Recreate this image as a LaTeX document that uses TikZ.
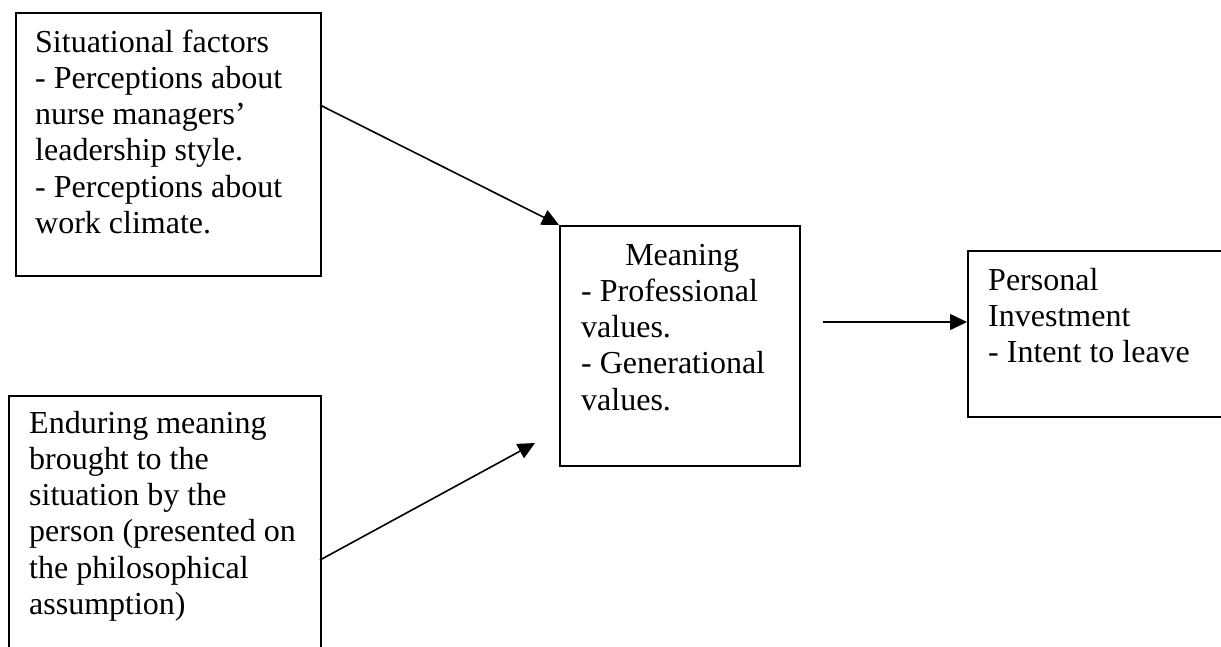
\documentclass[tikz,border=0pt]{standalone}
\usepackage{fontspec}
\setmainfont{Liberation Serif}
\usetikzlibrary{arrows.meta}
\begin{document}
\begin{tikzpicture}[x=1pt,y=-1pt,
  box/.style={draw, line width=1.9pt, rectangle, inner sep=0pt, anchor=north west},
  txt/.style={anchor=base west, inner sep=0pt, font=\fontsize{32}{36.3}\selectfont},
  arr/.style={line width=1.6pt, -{Triangle[length=17pt,width=16pt]}}]
\clip (0,0) rectangle (1221,646);
\fill[white] (0,0) rectangle (1221,646);
% boxes
\node[box, minimum width=305pt, minimum height=263pt] (b1) at (15,12) {};
\node[box, minimum width=312pt, minimum height=305pt] (b2) at (8,395) {};
\node[box, minimum width=240pt, minimum height=240pt] (m) at (559,225) {};
\node[box, minimum width=333pt, minimum height=166pt] (b4) at (967,250) {};
% texts
\node[txt] (t1) at (35,52) {\begin{tabular}[t]{@{}l@{}}Situational factors\\- Perceptions about\\nurse managers’\\leadership style.\\- Perceptions about\\work climate.\end{tabular}};
\node[txt] (t2) at (29,433) {\begin{tabular}[t]{@{}l@{}}Enduring meaning\\brought to the\\situation by the\\person (presented on\\the philosophical\\assumption)\end{tabular}};
\node[txt] (tm) at (581,265) {\begin{tabular}[t]{@{}l@{}}\multicolumn{1}{@{}c@{}}{\hspace{18pt}Meaning}\\- Professional\\values.\\- Generational\\values.\end{tabular}};
\node[txt] (t4) at (988,290) {\begin{tabular}[t]{@{}l@{}}Personal\\Investment\\- Intent to leave\end{tabular}};
% connectors
\coordinate (s1) at (320,105);
\coordinate (s2) at (320,560);
\coordinate (e2) at (535,443);
\coordinate (s3) at (823,322);
\draw[arr] (s1) -- (m.north west);
\draw[arr] (s2) -- (e2);
\draw[arr] (s3) -- (s3 -| b4.west);
\end{tikzpicture}
\end{document}
